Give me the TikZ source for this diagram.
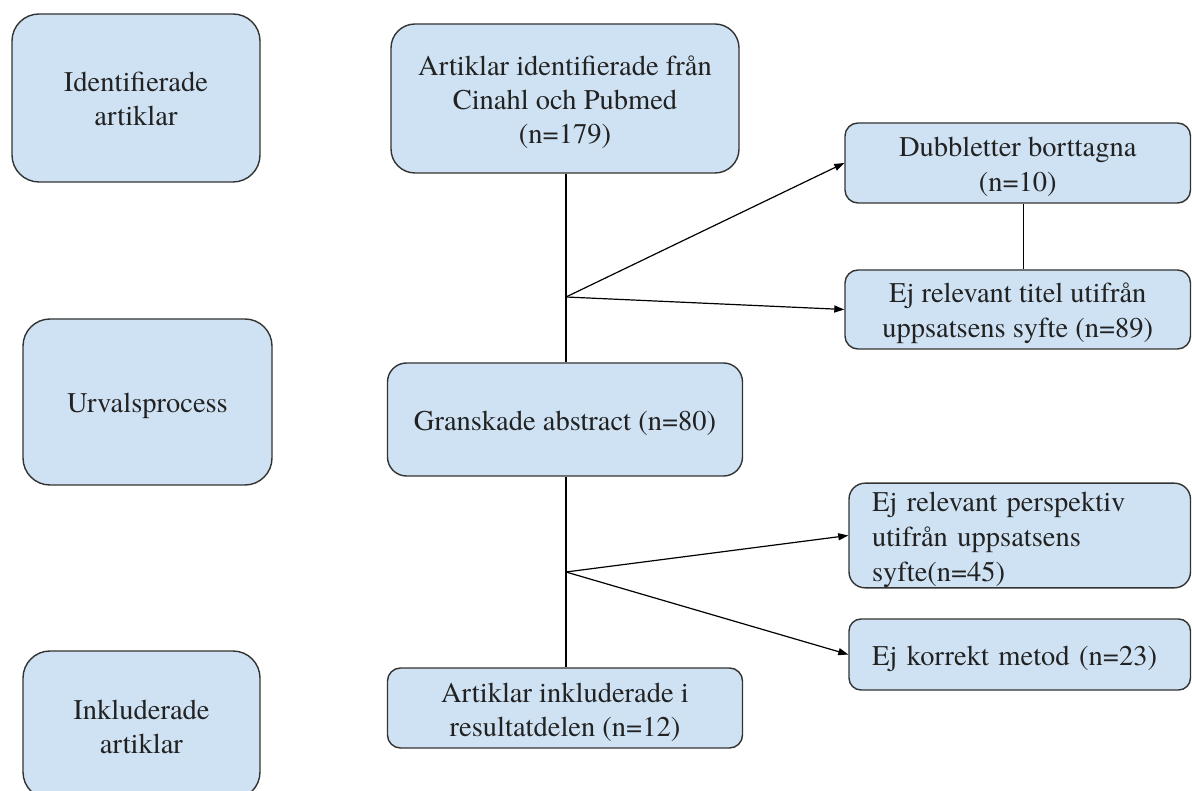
\documentclass[tikz,border=0pt]{standalone}
\usepackage{fontspec}
\setmainfont{texgyretermes}[Extension=.otf, UprightFont=*-regular, BoldFont=*-bold, ItalicFont=*-italic, BoldItalicFont=*-bolditalic]
\usetikzlibrary{arrows.meta}
\definecolor{boxfill}{HTML}{CFE2F3}
\definecolor{boxline}{HTML}{333333}
\definecolor{txt}{HTML}{222222}
\newcommand\tstrut{\rule[-6pt]{0pt}{34pt}}
\tikzset{
  box/.style={draw=boxline, fill=boxfill, line width=1.4pt, inner sep=0pt,
    align=center, text=txt, font=\fontsize{28.5}{34}\selectfont},
  lbox/.style={box, align=left, inner xsep=23pt, inner ysep=0pt},
  conn/.style={draw=black, line width=1.2pt},
  arr/.style={conn, -{Triangle[length=10pt,width=7pt]}}
}
\begin{document}
\begin{tikzpicture}[x=1pt,y=-1pt]
\useasboundingbox (0,0) rectangle (1192,791);
\clip (0,0) rectangle (1192,791);
\fill[white] (0,0) rectangle (1192,791);
% left column
\node[box, minimum width=248, minimum height=168, rounded corners=27] (ident) at (136,98) {\tstrut Identifierade\\\tstrut artiklar};
\node[box, minimum width=249, minimum height=166, rounded corners=27] (urval) at (147.5,402) {\tstrut Urvalsprocess};
\node[box, minimum width=237, minimum height=148, rounded corners=27] (inkl) at (141.5,725) {\tstrut Inkluderade\\\tstrut artiklar};
% middle column
\node[box, minimum width=348, minimum height=149, rounded corners=24] (a1) at (565,98.5) {\tstrut Artiklar identifierade från\\\tstrut Cinahl och Pubmed\\\tstrut (n=179)};
\node[box, minimum width=355, minimum height=113, rounded corners=19] (gran) at (565,419.5) {\tstrut Granskade abstract (n=80)};
\node[box, minimum width=355, minimum height=80, rounded corners=13] (res) at (565,708) {\tstrut Artiklar inkluderade i\\\tstrut resultatdelen (n=12)};
% right column
\node[box, minimum width=345.5, minimum height=80, rounded corners=13] (dub) at (1017.75,163) {\tstrut Dubbletter borttagna\\\tstrut (n=10)};
\node[box, minimum width=345.5, minimum height=79, rounded corners=13] (titel) at (1017.75,309.5) {\tstrut Ej relevant titel utifrån\\\tstrut uppsatsens syfte (n=89)};
\node[lbox, text width=295.5pt, minimum height=101, rounded corners=16] (persp) at (1019.75,535.5) {\tstrut Ej relevant perspektiv\\\tstrut utifrån uppsatsens\\\tstrut syfte(n=45)};
\node[lbox, text width=295.5pt, minimum height=71, rounded corners=12] (metod) at (1019.75,654.5) {\tstrut Ej korrekt metod (n=23)};
% connectors
\coordinate (b1) at (566,297);
\coordinate (b2) at (566,572);
\draw[conn] (a1.south -| b1) -- (gran.north -| b1);
\draw[conn] (gran.south -| b2) -- (res.north -| b2);
\draw[arr] (b1) -- (dub.west);
\draw[arr] (b1) -- (titel.west);
\draw[arr] (b2) -- (persp.west);
\draw[arr] (b2) -- (metod.west);
\draw[conn] ([xshift=6pt]dub.south) -- ([xshift=6pt]titel.north);
\end{tikzpicture}
\end{document}
